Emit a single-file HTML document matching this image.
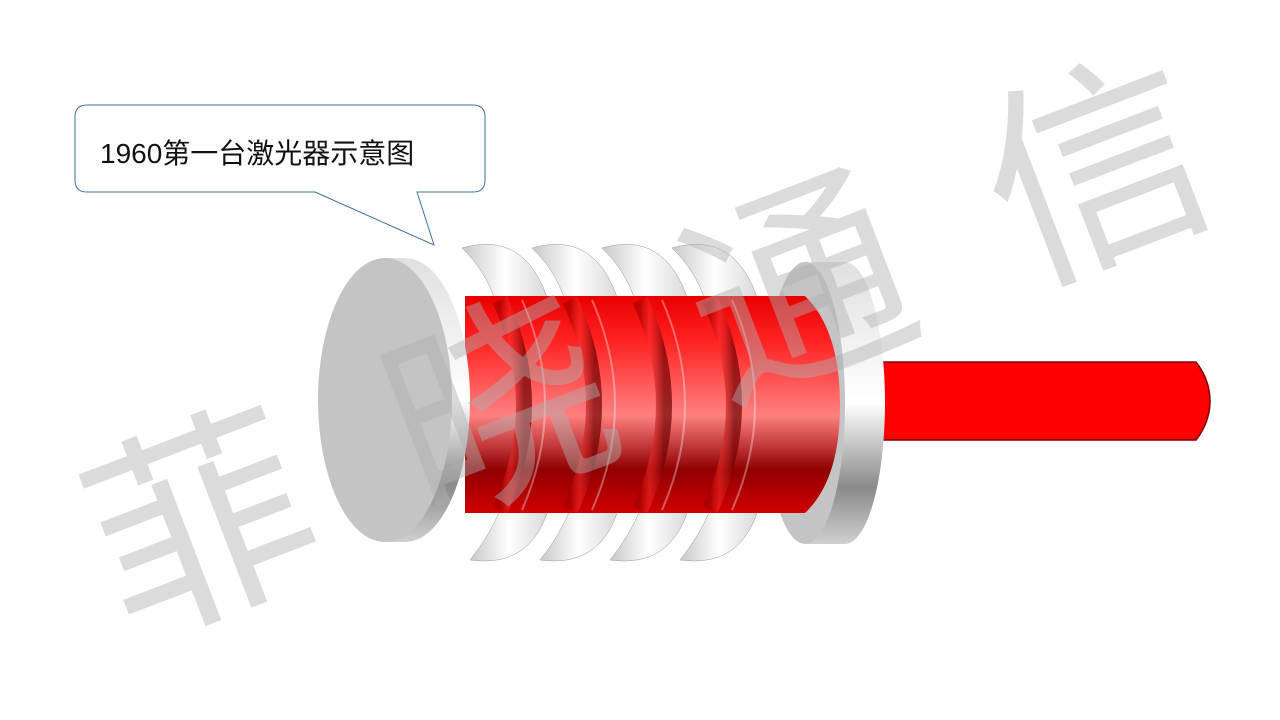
<!DOCTYPE html>
<html><head><meta charset="utf-8"><style>
html,body{margin:0;padding:0;background:#fff;}
svg{display:block;}
</style></head><body>
<svg width="1280" height="720" viewBox="0 0 1280 720" xmlns="http://www.w3.org/2000/svg">
<defs>
<linearGradient id="rim" x1="0" y1="0" x2="0" y2="1">
<stop offset="0" stop-color="#e0e0e0"/><stop offset="0.5" stop-color="#ffffff"/><stop offset="0.8" stop-color="#8a8a8a"/><stop offset="1" stop-color="#d0d0d0"/>
</linearGradient>
<linearGradient id="red" x1="0" y1="0" x2="0" y2="1">
<stop offset="0" stop-color="#e80000"/><stop offset="0.2" stop-color="#ff2020"/><stop offset="0.55" stop-color="#ff8080"/><stop offset="0.8" stop-color="#900000"/><stop offset="1" stop-color="#d00000"/>
</linearGradient>
<linearGradient id="coil" x1="0" y1="0" x2="1" y2="0">
<stop offset="0" stop-color="#c8c8c8"/><stop offset="0.5" stop-color="#ffffff"/><stop offset="1" stop-color="#d8d8d8"/>
</linearGradient>
<linearGradient id="ring" x1="0" y1="0" x2="1" y2="0">
<stop offset="0" stop-color="#a00000" stop-opacity="0.6"/><stop offset="0.4" stop-color="#ff3030" stop-opacity="0.5"/><stop offset="1" stop-color="#700000" stop-opacity="0.7"/>
</linearGradient>
</defs>

<path d="M87,105 H473 Q485,105 485,117 V180 Q485,192 473,192 H417 L434,245 L315,192 H87 Q75,192 75,180 V117 Q75,105 87,105 Z" fill="#fff" stroke="#41719c" stroke-width="1"/>
<text x="100" y="163" font-family="Liberation Sans, Noto Sans CJK SC, sans-serif" font-size="28" fill="#111">1960第一台激光器示意图</text>

<path d="M878,362 H1196 Q1210,380 1210,401 Q1210,422 1196,440 H878 Z" fill="#ff0000" stroke="#800000" stroke-width="1.5"/>

<ellipse cx="845" cy="403" rx="40" ry="141" fill="url(#rim)"/>
<rect x="805" y="262" width="40" height="282" fill="url(#rim)"/>
<ellipse cx="805" cy="403" rx="40" ry="141" fill="#c4c4c4"/>

<g stroke="#999" stroke-width="0.5" fill="url(#coil)">
<path d="M462,248 Q525,230 548,300 L495,300 Q485,270 462,248 Z"/>
<path d="M532,248 Q595,230 618,300 L565,300 Q555,270 532,248 Z"/>
<path d="M602,248 Q665,230 688,300 L635,300 Q625,270 602,248 Z"/>
<path d="M672,248 Q735,230 758,300 L705,300 Q695,270 672,248 Z"/>
<path d="M470,560 Q530,568 548,510 L500,510 Q490,535 470,560 Z"/>
<path d="M540,560 Q600,568 618,510 L570,510 Q560,535 540,560 Z"/>
<path d="M610,560 Q670,568 688,510 L640,510 Q630,535 610,560 Z"/>
<path d="M680,560 Q740,568 758,510 L710,510 Q700,535 680,560 Z"/>
</g>

<path d="M465,296 H805 Q840,330 840,405 Q840,480 805,513 H465 Z" fill="url(#red)"/>
<g fill="none" stroke="url(#ring)" stroke-width="16">
<path d="M500,300 Q548,405 500,510"/>
<path d="M570,300 Q618,405 570,510"/>
<path d="M640,300 Q688,405 640,510"/>
<path d="M710,300 Q758,405 710,510"/>
</g>
<g fill="none" stroke="#ffffff" stroke-opacity="0.35" stroke-width="2">
<path d="M522,300 Q568,405 522,510"/>
<path d="M592,300 Q638,405 592,510"/>
<path d="M662,300 Q708,405 662,510"/>
<path d="M732,300 Q778,405 732,510"/>
</g>

<ellipse cx="405" cy="400" rx="65" ry="142" fill="url(#rim)"/>
<rect x="385" y="258" width="20" height="284" fill="url(#rim)"/>
<ellipse cx="385" cy="400" rx="67" ry="142" fill="#c4c4c4"/>

<g font-family="Liberation Sans, Noto Sans CJK SC, sans-serif" font-size="220" fill="#b0b0b0" fill-opacity="0.45" text-anchor="middle">
<text transform="translate(230,598) rotate(-21)">菲</text>
<text transform="translate(528,480) rotate(-21)">晓</text>
<text transform="translate(826,362) rotate(-21)">通</text>
<text transform="translate(1124,244) rotate(-21)">信</text>
</g>
</svg>
</body></html>
